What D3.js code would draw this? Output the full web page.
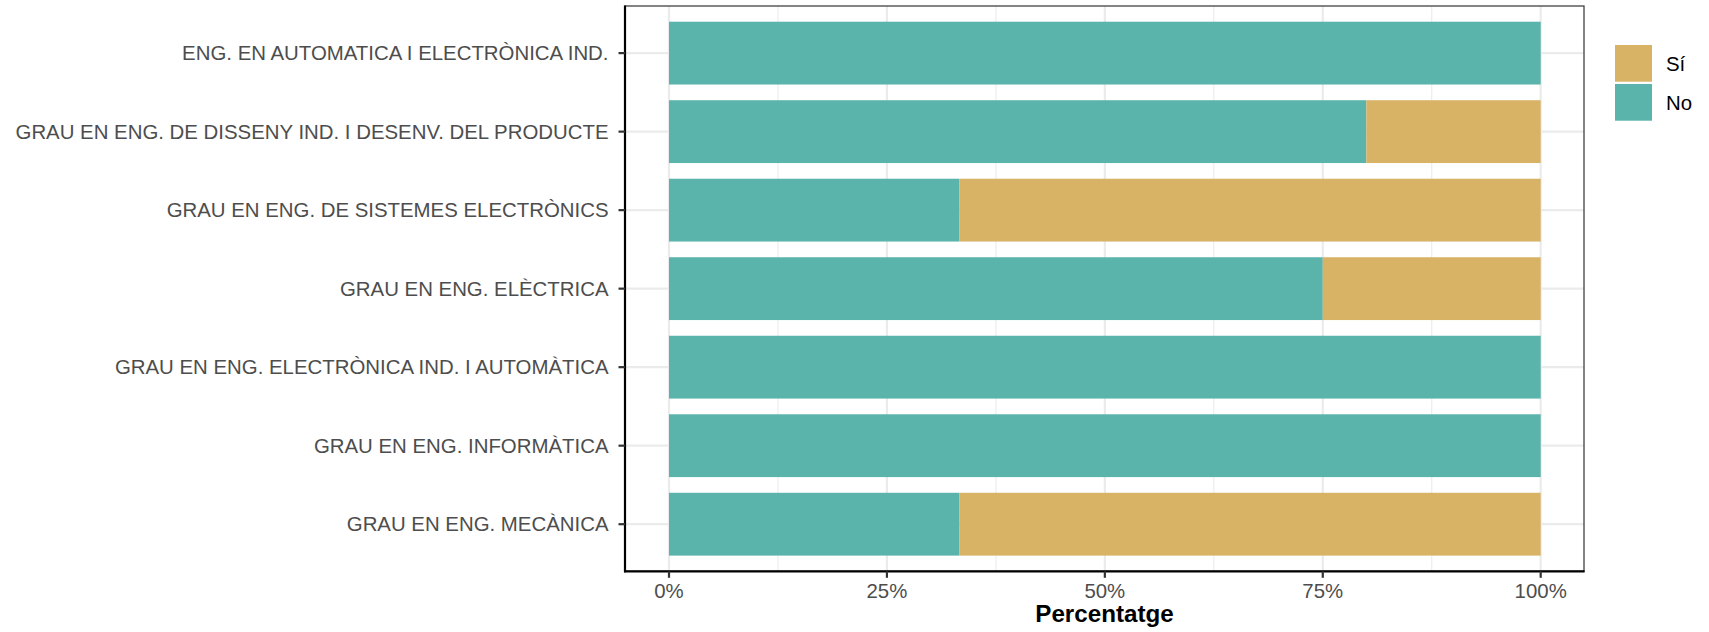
<!DOCTYPE html>
<html><head><meta charset="utf-8">
<script src="https://cdn.jsdelivr.net/npm/d3@7"></script>
<style>body{margin:0;background:#fff}svg{display:block;font-family:"Liberation Sans",Arial,sans-serif}</style>
</head><body><svg id="c" width="1709" height="632"></svg>
<script>
const categories = [
  "ENG. EN AUTOMATICA I ELECTRÒNICA IND.",
  "GRAU EN ENG. DE DISSENY IND. I DESENV. DEL PRODUCTE",
  "GRAU EN ENG. DE SISTEMES ELECTRÒNICS",
  "GRAU EN ENG. ELÈCTRICA",
  "GRAU EN ENG. ELECTRÒNICA IND. I AUTOMÀTICA",
  "GRAU EN ENG. INFORMÀTICA",
  "GRAU EN ENG. MECÀNICA"
];
const noValues = [100, 80, 33.33, 75, 100, 100, 33.33];
const siValues = [0, 20, 66.67, 25, 0, 0, 66.67];
const seriesNames = ["Sí", "No"];
const seriesColors = ["#D8B365", "#5AB4AC"];
const xTicks = [0, 25, 50, 75, 100];
const xMinor = [12.5, 37.5, 62.5, 87.5];
const xTitle = "Percentatge";

const svg = d3.select("#c");
const P = {l: 625, r: 1584, t: 6, b: 571.3};
const x = d3.scaleLinear().domain([0, 100]).range([669, 1540.7]);
// ggplot-like discrete axis: expansion 0.6 on each side, bar width 0.8
const y = d3.scalePoint().domain(categories).range([P.t, P.b]).padding(0.6);
const step = y.step();
const yc = (i) => y(categories[i]);
const bh = 0.8 * step;

const g = svg.append("g");
g.selectAll(".minor").data(xMinor).join("line")
  .attr("x1", d => x(d)).attr("x2", d => x(d)).attr("y1", P.t).attr("y2", P.b)
  .attr("stroke", "#EBEBEB").attr("stroke-width", 1.1);
g.selectAll(".major").data(xTicks).join("line")
  .attr("x1", d => x(d)).attr("x2", d => x(d)).attr("y1", P.t).attr("y2", P.b)
  .attr("stroke", "#EBEBEB").attr("stroke-width", 2.2);
g.selectAll(".hmajor").data(categories).join("line")
  .attr("x1", P.l).attr("x2", P.r).attr("y1", (d, i) => yc(i)).attr("y2", (d, i) => yc(i))
  .attr("stroke", "#EBEBEB").attr("stroke-width", 2.2);

const rows = categories.map((c, i) => ({c, i, no: noValues[i], si: siValues[i]}));
g.selectAll(".no").data(rows).join("rect")
  .attr("x", d => x(0)).attr("width", d => x(d.no) - x(0))
  .attr("y", d => yc(d.i) - bh / 2).attr("height", bh).attr("fill", seriesColors[1]);
g.selectAll(".si").data(rows.filter(d => d.si > 0)).join("rect")
  .attr("x", d => x(d.no)).attr("width", d => x(d.no + d.si) - x(d.no))
  .attr("y", d => yc(d.i) - bh / 2).attr("height", bh).attr("fill", seriesColors[0]);

svg.append("rect").attr("x", P.l).attr("y", P.t).attr("width", P.r - P.l).attr("height", P.b - P.t)
  .attr("fill", "none").attr("stroke", "#333").attr("stroke-width", 1.2);
svg.append("line").attr("x1", P.l).attr("x2", P.l).attr("y1", P.t - 0.6).attr("y2", P.b + 1)
  .attr("stroke", "#000").attr("stroke-width", 2.2);
svg.append("line").attr("x1", P.l - 1).attr("x2", P.r + 0.6).attr("y1", P.b).attr("y2", P.b)
  .attr("stroke", "#000").attr("stroke-width", 2.2);

svg.selectAll(".xt").data(xTicks).join("line")
  .attr("x1", d => x(d)).attr("x2", d => x(d)).attr("y1", P.b).attr("y2", P.b + 6.5)
  .attr("stroke", "#333").attr("stroke-width", 2.2);
svg.selectAll(".xl").data(xTicks).join("text")
  .attr("x", d => x(d)).attr("y", 598.3).attr("text-anchor", "middle")
  .attr("font-size", 20.4).attr("fill", "#4D4D4D").text(d => d + "%");

svg.selectAll(".yt").data(categories).join("line")
  .attr("x1", P.l - 6.5).attr("x2", P.l).attr("y1", (d, i) => yc(i)).attr("y2", (d, i) => yc(i))
  .attr("stroke", "#333").attr("stroke-width", 2.2);
svg.selectAll(".yl").data(categories).join("text")
  .attr("x", 608.5).attr("y", (d, i) => yc(i) + 7.3).attr("text-anchor", "end")
  .attr("font-size", 20.4).attr("fill", "#4D4D4D").text(d => d);

svg.append("text").attr("x", (P.l + P.r) / 2).attr("y", 621.5).attr("text-anchor", "middle")
  .attr("font-size", 24.2).attr("font-weight", "bold").attr("fill", "#000").text(xTitle);

const lg = svg.append("g");
seriesNames.forEach((s, i) => {
  lg.append("rect").attr("x", 1615).attr("y", 45 + i * 39).attr("width", 37).attr("height", 36.7)
    .attr("fill", seriesColors[i]);
  lg.append("text").attr("x", 1666).attr("y", 45 + i * 39 + 18.3 + 7.3)
    .attr("font-size", 20.4).attr("fill", "#000").text(s);
});
</script></body></html>
